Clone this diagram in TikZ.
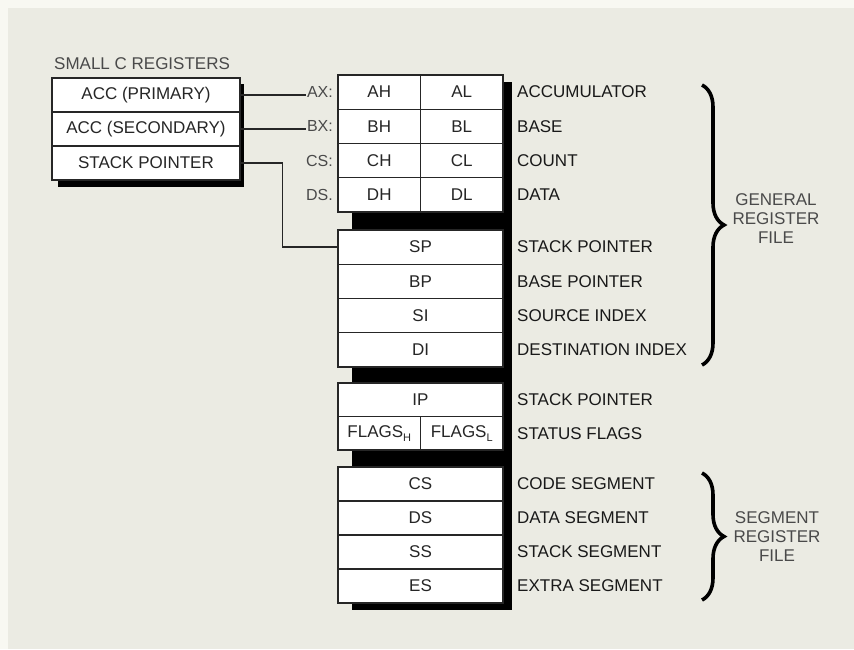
\documentclass[tikz,border=0pt]{standalone}
\usepackage{fontspec}
\setmainfont{Liberation Sans}
\usetikzlibrary{decorations.pathreplacing}
\definecolor{bg}{HTML}{EBEBE3}
\definecolor{bgedge}{HTML}{F8F8F2}
\definecolor{ink}{HTML}{262626}
\definecolor{soft}{HTML}{4A4A4A}
\begin{document}
\begin{tikzpicture}[x=1pt,y=-1pt,
  every node/.style={font=\fontsize{17}{19}\selectfont, text=ink, inner sep=0pt},
  cell/.style={draw=ink, fill=white, line width=1.1pt, minimum width=#1},
  cell/.default=165pt,
  rowA/.style={minimum height=34.25pt},
  rowB/.style={minimum height=33.5pt},
  rowC/.style={minimum height=34pt},
  small/.style={draw=ink, fill=white, line width=1.1pt, minimum width=188pt, minimum height=34pt},
  shadow/.style={fill=black, draw=none},
  reglabel/.style={anchor=west, text=black!90},
  xlabel/.style={anchor=east, text=soft, font=\fontsize{16}{19}\selectfont},
  conn/.style={draw=ink, line width=1.3pt},
  bracestyle/.style={decorate, decoration={brace, amplitude=22pt}, line width=3.6pt, draw=black},
  bracetext/.style={align=center, text=soft, font=\fontsize{17}{19}\selectfont}
]
\useasboundingbox (0,0) rectangle (854,649);
\fill[bgedge] (0,0) rectangle (854,649);
\fill[bg] (8,8) rectangle (854,649);

% shadows
\fill[shadow] (58,84) rectangle (244,187);
\fill[shadow] (352,82) rectangle (512,610);

% small C registers
\node[anchor=west, text=soft, font=\fontsize{17}{19}\selectfont] (title) at (54,64) {SMALL C REGISTERS};
\node[small] (accp) at (146,95) {ACC (PRIMARY)};
\node[small] (accs) at (146,129) {ACC (SECONDARY)};
\node[small] (stkp) at (146,163) {STACK POINTER};

% block 1
\node[cell=82.5pt, rowA] (ah) at (379.25,92.125) {AH};
\node[cell=82.5pt, rowA] (al) at (461.75,92.125) {AL};
\node[cell=82.5pt, rowA] (bh) at (379.25,126.375) {BH};
\node[cell=82.5pt, rowA] (bl) at (461.75,126.375) {BL};
\node[cell=82.5pt, rowA] (ch) at (379.25,160.625) {CH};
\node[cell=82.5pt, rowA] (cl) at (461.75,160.625) {CL};
\node[cell=82.5pt, rowA] (dh) at (379.25,194.875) {DH};
\node[cell=82.5pt, rowA] (dl) at (461.75,194.875) {DL};

% block 2
\node[cell, rowA] (sp) at (420.5,247.125) {SP};
\node[cell, rowA] (bp) at (420.5,281.375) {BP};
\node[cell, rowA] (si) at (420.5,315.625) {SI};
\node[cell, rowA] (di) at (420.5,349.875) {DI};

% block 3
\node[cell, rowB] (ip) at (420.5,399.75) {IP};
\node[cell=82.5pt, rowB] (fh) at (379.25,433.25) {FLAGS\raisebox{-4pt}{\fontsize{11}{11}\selectfont H}};
\node[cell=82.5pt, rowB] (fl) at (461.75,433.25) {FLAGS\raisebox{-4pt}{\fontsize{11}{11}\selectfont L}};

% block 4
\node[cell, rowC] (cs) at (420.5,484) {CS};
\node[cell, rowC] (ds) at (420.5,518) {DS};
\node[cell, rowC] (ss) at (420.5,552) {SS};
\node[cell, rowC] (es) at (420.5,586) {ES};

% left labels
\node[xlabel] (ax) at (333,92.125) {AX:};
\node[xlabel] (bx) at (333,126.375) {BX:};
\node[xlabel] (cx) at (333,160.625) {CS:};
\node[xlabel] (dx) at (333,194.875) {DS.};

% connectors
\draw[conn] (accp.east) -- ([xshift=-1pt]accp.east -| ax.west);
\draw[conn] (accs.east) -- ([xshift=-1pt]accs.east -| bx.west);
\draw[conn] (stkp.east) -| ([xshift=-55pt]sp.west) |- (sp.west);

% right labels
\node[reglabel] (lacc) at (517,92.125) {ACCUMULATOR};
\node[reglabel] (lbase) at (517,126.375) {BASE};
\node[reglabel] (lcount) at (517,160.625) {COUNT};
\node[reglabel] (ldata) at (517,194.875) {DATA};
\node[reglabel] (lsp) at (517,247.125) {STACK POINTER};
\node[reglabel] (lbp) at (517,281.375) {BASE POINTER};
\node[reglabel] (lsi) at (517,315.625) {SOURCE INDEX};
\node[reglabel] (ldi) at (517,349.875) {DESTINATION INDEX};
\node[reglabel] (lip) at (517,399.75) {STACK POINTER};
\node[reglabel] (lfl) at (517,433.25) {STATUS FLAGS};
\node[reglabel] (lcs) at (517,484) {CODE SEGMENT};
\node[reglabel] (lds) at (517,518) {DATA SEGMENT};
\node[reglabel] (lss) at (517,552) {STACK SEGMENT};
\node[reglabel] (les) at (517,586) {EXTRA SEGMENT};

% braces
\coordinate (b1t) at (702,85);
\coordinate (b1b) at (702,365);
\draw[bracestyle] (b1t) -- (b1b);
\node[bracetext] (grf) at (776,219) {GENERAL\\REGISTER\\FILE};
\coordinate (b2t) at (702,473);
\coordinate (b2b) at (702,600);
\draw[bracestyle] (b2t) -- (b2b);
\node[bracetext] (srf) at (777,537) {SEGMENT\\REGISTER\\FILE};
\end{tikzpicture}
\end{document}
